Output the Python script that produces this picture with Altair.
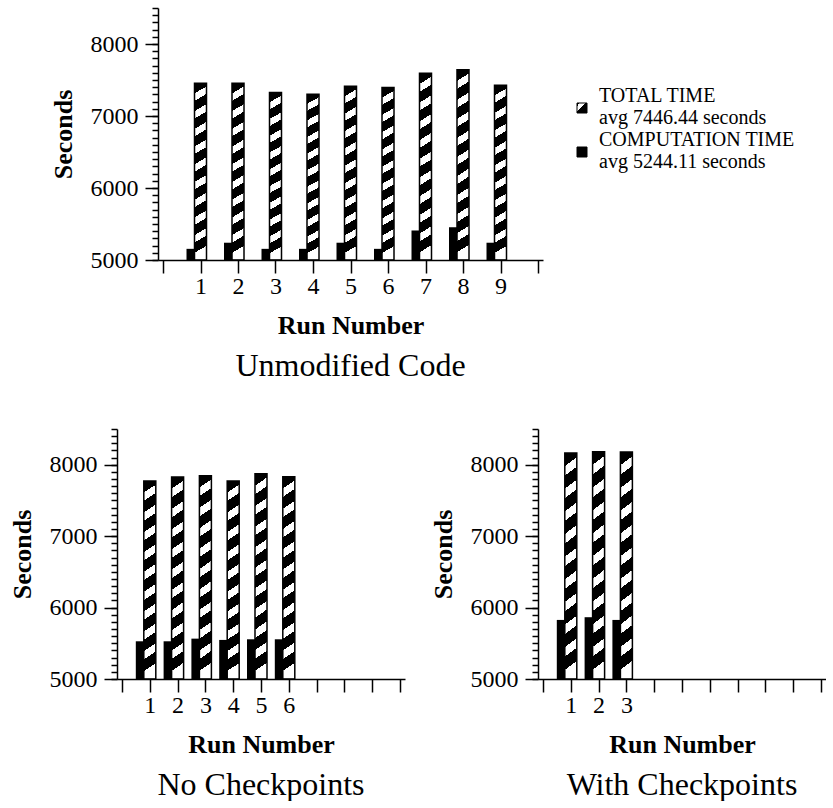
import altair as alt
import pandas as pd

FONT = "Liberation Serif"

# ---------------- data ----------------
unmod_runs = [1, 2, 3, 4, 5, 6, 7, 8, 9]
unmod_total = [7456, 7456, 7326, 7303, 7414, 7395, 7595, 7641, 7428]
unmod_comp = [5155, 5240, 5155, 5155, 5240, 5155, 5410, 5455, 5240]

nochk_runs = [1, 2, 3, 4, 5, 6]
nochk_total = [7771, 7828, 7846, 7771, 7874, 7832]
nochk_comp = [5528, 5528, 5565, 5547, 5556, 5556]

chk_runs = [1, 2, 3]
chk_total = [8164, 8182, 8177]
chk_comp = [5827, 5865, 5827]

y_major = [5000, 6000, 7000, 8000]
y_minor = list(range(5000, 8501, 100))
x_ticks = list(range(0, 11))

legend_total = ["TOTAL TIME\navg 7446.44 seconds"]
legend_comp = ["COMPUTATION TIME\navg 5244.11 seconds"]

# ---------------- styles ----------------
n_stripes = 10
stops = []
for i in range(n_stripes):
    a = i / n_stripes
    b = (i + 0.58) / n_stripes
    c = (i + 1) / n_stripes
    stops += [
        alt.GradientStop(color="black", offset=a),
        alt.GradientStop(color="black", offset=b),
        alt.GradientStop(color="white", offset=b),
        alt.GradientStop(color="white", offset=c),
    ]
hatch = alt.LinearGradient(gradient="linear", stops=stops, x1=0, y1=0, x2=0.04, y2=1)

legend_hatch = alt.LinearGradient(
    gradient="linear",
    stops=[
        alt.GradientStop(color="black", offset=0.0),
        alt.GradientStop(color="black", offset=0.15),
        alt.GradientStop(color="white", offset=0.15),
        alt.GradientStop(color="white", offset=0.42),
        alt.GradientStop(color="black", offset=0.42),
        alt.GradientStop(color="black", offset=1.0),
    ],
    x1=0, y1=0, x2=1, y2=1,
)

yscale = alt.Scale(domain=[5000, 8500], nice=False, zero=False)

SHIFT = 41


def panel(runs, total, comp, title, width, height, shift=0, legend=False):
    df = pd.DataFrame({"run": runs, "total": total, "comp": comp})
    n = len(runs)
    xscale = alt.Scale(domain=[0, 10], nice=False, zero=False, range=[shift, width])
    xaxis = alt.Axis(
        values=x_ticks,
        labelExpr=f"datum.value >= 1 && datum.value <= {n} ? datum.label : ''",
        title="Run Number",
        tickSize=13,
        labelPadding=1,
        titlePadding=14,
        grid=False,
        labelOverlap=False,
        labelFlush=False,
        zindex=1,
        orient="bottom",
    )
    yaxis = alt.Axis(
        values=y_major,
        format="d",
        title="Seconds",
        tickSize=13,
        labelPadding=7,
        titlePadding=14,
        grid=False,
        labelOverlap=False,
        zindex=1,
        orient="left",
        offset=-shift,
    )
    minor = alt.Chart(df).mark_point(opacity=0).encode(
        y=alt.Y(
            "total:Q",
            scale=yscale,
            axis=alt.Axis(
                values=y_minor, tickSize=6, labels=False, domain=False,
                title=None, grid=False, orient="left", zindex=1, offset=-shift,
            ),
        )
    )
    comp_bars = alt.Chart(df).mark_bar(size=12, xOffset=-8, fill="black").encode(
        x=alt.X("run:Q", scale=xscale, axis=xaxis),
        y=alt.Y("comp:Q", scale=yscale, axis=yaxis),
        y2=alt.datum(5000),
    )
    total_bars = alt.Chart(df).mark_bar(
        size=12, fill=hatch, stroke="black", strokeWidth=1.5
    ).encode(
        x=alt.X("run:Q", scale=xscale, axis=xaxis),
        y=alt.Y("total:Q", scale=yscale, axis=yaxis),
        y2=alt.datum(5000),
    )
    layers = [comp_bars, total_bars]
    if legend:
        ldf1 = pd.DataFrame({"label": legend_total})
        ldf2 = pd.DataFrame({"label": legend_comp})
        sym1 = alt.Chart(ldf1).mark_square(
            size=100, fill=legend_hatch, stroke="black", strokeWidth=1, opacity=1
        ).encode(x=alt.value(465), y=alt.value(100))
        sym2 = alt.Chart(ldf2).mark_square(
            size=100, fill="black", stroke="black", strokeWidth=1, opacity=1
        ).encode(x=alt.value(465), y=alt.value(144))
        txt_kw = dict(align="left", baseline="alphabetic", font=FONT, fontSize=20,
                      lineBreak="\n", lineHeight=22, color="black")
        t1 = alt.Chart(ldf1).mark_text(**txt_kw).encode(
            x=alt.value(482), y=alt.value(94), text="label:N")
        t2 = alt.Chart(ldf2).mark_text(**txt_kw).encode(
            x=alt.value(482), y=alt.value(138), text="label:N")
        layers += [sym1, sym2, t1, t2]
    main = alt.layer(*layers)
    return alt.layer(minor, main).resolve_scale(y="independent").properties(
        width=width,
        height=height,
        title=alt.TitleParams(
            title, orient="bottom", fontSize=32, font=FONT, fontWeight="normal",
            offset=13, frame="group", anchor="middle", color="black", dx=shift / 2,
        ),
    )


top = panel(unmod_runs, unmod_total, unmod_comp, "Unmodified Code", 385 + SHIFT, 252,
            shift=SHIFT, legend=True)
bl = panel(nochk_runs, nochk_total, nochk_comp, "No Checkpoints", 288, 250)
br = panel(chk_runs, chk_total, chk_comp, "With Checkpoints", 288, 250)

bottom_row = alt.hconcat(bl, br, spacing=25)

chart = alt.vconcat(top, bottom_row, spacing=46).properties(
    padding={"left": 9, "top": 7, "right": 0, "bottom": 0},
    background="white",
).configure_view(strokeWidth=0, stroke=None).configure_axis(
    domainColor="black",
    domainWidth=1.5,
    tickColor="black",
    tickWidth=1.5,
    labelFont=FONT,
    labelFontSize=24,
    labelColor="black",
    titleFont=FONT,
    titleFontSize=26,
    titleFontWeight="bold",
    titleColor="black",
)

chart.save("out.html", embed_options={"renderer": "svg", "actions": False})
